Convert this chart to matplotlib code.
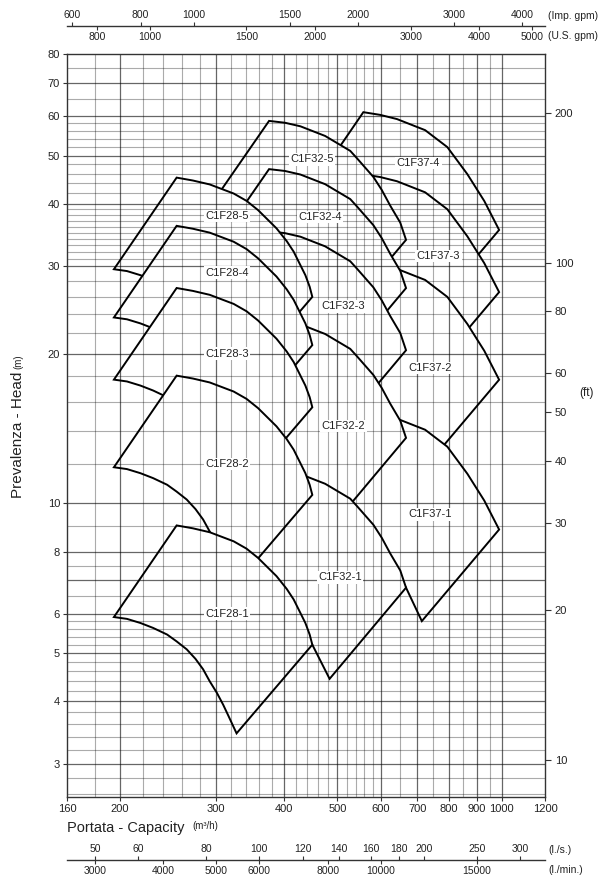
import matplotlib
matplotlib.use("Agg")
import matplotlib.pyplot as plt
from matplotlib.ticker import FixedLocator, NullLocator, FixedFormatter

plt.rcParams["font.family"] = ["Liberation Sans", "DejaVu Sans"]

# ---- data: single-stage envelope of each pump family (Q m3/h, H m) ----
# top = max impeller curve (left vertex -> right vertex)
# bottom = min impeller curve (left vertex -> bottom vertex)
F28_TOP_Q = [254, 272, 292, 323, 341, 358, 387, 404, 416, 437, 445, 450]
F28_TOP_H = [9.03, 8.91, 8.75, 8.39, 8.11, 7.77, 7.14, 6.73, 6.41, 5.75, 5.45, 5.20]
F28_BOT_Q = [195, 206, 218, 230, 244, 254, 265, 275, 284, 292, 301, 309, 316, 327]
F28_BOT_H = [5.91, 5.86, 5.75, 5.62, 5.45, 5.28, 5.09, 4.87, 4.64, 4.39, 4.16, 3.94,
             3.74, 3.45]
F28_STAGES = [5, 4, 3, 2, 1]

F32_TOP_Q = [375, 401, 428, 475, 528, 543, 582, 603, 625, 652, 668]
F32_TOP_H = [11.74, 11.64, 11.45, 10.95, 10.22, 9.88, 9.06, 8.53, 7.93, 7.33, 6.77]
F32_BOT_Q = [286, 361, 410, 450, 484]
F32_BOT_H = [7.64, 6.47, 5.84, 5.20, 4.44]
F32_STAGES = [5, 4, 3, 2, 1]

F37_TOP_Q = [558, 599, 643, 724, 795, 865, 929, 989]
F37_TOP_H = [15.28, 15.09, 14.80, 14.06, 13.00, 11.47, 10.13, 8.86]
F37_BOT_Q = [433, 506, 574, 638, 668, 714]
F37_BOT_H = [10.17, 9.36, 8.46, 7.40, 6.77, 5.80]
F37_STAGES = [4, 3, 2, 1]

LABEL_TEXT = ["C1F28-5", "C1F28-4", "C1F28-3", "C1F28-2", "C1F28-1",
              "C1F32-5", "C1F32-4", "C1F32-3", "C1F32-2", "C1F32-1",
              "C1F37-4", "C1F37-3", "C1F37-2", "C1F37-1"]
LABEL_Q = [314, 314, 314, 314, 314, 450, 465, 513, 513, 506, 704, 766, 740, 740]
LABEL_H = [37.8, 29.1, 20.0, 12.0, 6.0, 49.1, 37.6, 24.9, 14.3, 7.1, 48.3, 31.4, 18.7, 9.5]

X_TICKS = [160, 200, 300, 400, 500, 600, 700, 800, 900, 1000, 1200]
X_GRID_MAJOR = [200, 300, 400, 500, 600, 700, 800, 900, 1000]
X_GRID_MINOR = [180, 220, 240, 260, 280, 320, 340, 360, 380, 420, 440, 460, 480,
                520, 540, 560, 580, 650, 750, 850, 950]
Y_TICKS = [3, 4, 5, 6, 8, 10, 20, 30, 40, 50, 60, 70, 80]
Y_GRID_MAJOR = [3, 4, 5, 6, 7, 8, 10, 20, 30, 40, 50, 60, 70]
Y_GRID_MINOR = [2.6, 2.8, 3.2, 3.4, 3.6, 3.8, 4.2, 4.4, 4.6, 4.8, 5.2, 5.4, 5.6, 5.8,
                6.5, 7.5, 9, 12, 14, 16, 18, 22, 24, 26, 28,
                31, 32, 33, 34, 35, 36, 37, 38, 39, 42, 44, 46, 48,
                52, 54, 56, 58, 65, 75]
FT_TICKS = [10, 20, 30, 40, 50, 60, 80, 100, 200]

IMP_TICKS = [600, 800, 1000, 1500, 2000, 3000, 4000]
USG_TICKS = [800, 1000, 1500, 2000, 3000, 4000, 5000]
LS_TICKS = [50, 60, 80, 100, 120, 140, 160, 180, 200, 250, 300]
LMIN_TICKS = [3000, 4000, 5000, 6000, 8000, 10000, 15000]

Q_MIN, Q_MAX = 160, 1200
H_MIN, H_MAX = 2.57, 80

# unit factors from m3/h and m
IMP_GPM = 3.6662
US_GPM = 4.4029
L_S = 1 / 3.6
L_MIN = 1000 / 60
FT = 1 / 0.3048

TXT = "#222222"

fig = plt.figure(figsize=(6.1, 8.77), dpi=100)
W, H = 610, 877
L_PX, R_PX, T_PX, B_PX = 67, 545, 54, 797
rect = [L_PX / W, 1 - B_PX / H, (R_PX - L_PX) / W, (B_PX - T_PX) / H]
ax = fig.add_axes(rect)
ax.set_xscale("log")
ax.set_yscale("log")
ax.set_xlim(Q_MIN, Q_MAX)
ax.set_ylim(H_MIN, H_MAX)


def draw_family(top_q, top_h, bot_q, bot_h, stages, z):
    # multistage head = stages x single-stage head; lower stages drawn over
    q = list(top_q) + list(bot_q[::-1])
    for n in stages:
        h = [n * v for v in list(top_h) + list(bot_h[::-1])]
        ax.fill(q, h, facecolor="white", edgecolor="black", lw=1.4,
                joinstyle="miter", zorder=z)
        z += 0.01
    return z


z = 2.0
z = draw_family(F37_TOP_Q, F37_TOP_H, F37_BOT_Q, F37_BOT_H, F37_STAGES, z)
z = draw_family(F32_TOP_Q, F32_TOP_H, F32_BOT_Q, F32_BOT_H, F32_STAGES, z)
z = draw_family(F28_TOP_Q, F28_TOP_H, F28_BOT_Q, F28_BOT_H, F28_STAGES, z)

# grid on top, semi transparent black so it stays dark over the curves
for v in X_GRID_MINOR:
    ax.axvline(v, color="black", alpha=0.33, lw=0.8, zorder=3)
for v in X_GRID_MAJOR:
    ax.axvline(v, color="black", alpha=0.6, lw=0.9, zorder=3)
for v in Y_GRID_MINOR:
    ax.axhline(v, color="black", alpha=0.33, lw=0.8, zorder=3)
for v in Y_GRID_MAJOR:
    ax.axhline(v, color="black", alpha=0.6, lw=0.9, zorder=3)

for t, q, h in zip(LABEL_TEXT, LABEL_Q, LABEL_H):
    ax.text(q, h, t, fontsize=8, color=TXT, ha="center", va="center", zorder=5,
            bbox=dict(boxstyle="square,pad=0.12", fc="white", ec="none"))

for s in ax.spines.values():
    s.set_linewidth(1.0)
    s.set_color("#333333")
    s.set_zorder(4)

ax.xaxis.set_major_locator(FixedLocator(X_TICKS))
ax.xaxis.set_major_formatter(FixedFormatter([str(v) for v in X_TICKS]))
ax.xaxis.set_minor_locator(NullLocator())
ax.yaxis.set_major_locator(FixedLocator(Y_TICKS))
ax.yaxis.set_major_formatter(FixedFormatter([str(v) for v in Y_TICKS]))
ax.yaxis.set_minor_locator(NullLocator())
ax.tick_params(axis="both", labelsize=8, labelcolor=TXT, length=3, width=0.8,
               color="#333333", pad=2)

ax2 = ax.twinx()
ax2.set_yscale("log")
ax2.set_ylim(H_MIN * FT, H_MAX * FT)
ax2.yaxis.set_major_locator(FixedLocator(FT_TICKS))
ax2.yaxis.set_major_formatter(FixedFormatter([str(v) for v in FT_TICKS]))
ax2.yaxis.set_minor_locator(NullLocator())
ax2.tick_params(axis="y", labelsize=8, labelcolor=TXT, length=4, width=0.8,
                color="#333333", pad=3)
for s in ax2.spines.values():
    s.set_visible(False)

# axis titles
fig.text(18 / W, 1 - 435 / H, "Prevalenza - Head", rotation=90, fontsize=11,
         color=TXT, ha="center", va="center")
fig.text(18 / W, 1 - 362 / H, "(m)", rotation=90, fontsize=7,
         color=TXT, ha="center", va="center")
fig.text(586 / W, 1 - 393 / H, "(ft)", fontsize=8.5, color=TXT,
         ha="center", va="center")
fig.text(L_PX / W, 1 - 828 / H, "Portata - Capacity", fontsize=10.5,
         color=TXT, ha="left", va="center")
fig.text(192 / W, 1 - 826 / H, "(m\u00b3/h)", fontsize=7,
         color=TXT, ha="left", va="center")


def scale_line(y_px, factor_up, ticks_up, factor_dn, ticks_dn, unit_up, unit_dn):
    r = [L_PX / W, 1 - y_px / H, (R_PX - L_PX) / W, 1e-5]
    for k, (fac, ticks, side) in enumerate([(factor_up, ticks_up, "top"),
                                            (factor_dn, ticks_dn, "bottom")]):
        a = fig.add_axes(r, label="scale%d_%d" % (y_px, k))
        a.set_xscale("log")
        a.set_xlim(Q_MIN * fac, Q_MAX * fac)
        a.patch.set_visible(False)
        a.yaxis.set_visible(False)
        for s in a.spines.values():
            s.set_visible(False)
        if k == 0:
            a.spines["bottom"].set_visible(True)
            a.spines["bottom"].set_linewidth(1.0)
            a.spines["bottom"].set_color("#333333")
        a.xaxis.set_major_locator(FixedLocator(ticks))
        a.xaxis.set_major_formatter(FixedFormatter([str(v) for v in ticks]))
        a.xaxis.set_minor_locator(NullLocator())
        a.xaxis.set_ticks_position(side)
        a.xaxis.set_label_position(side)
        a.tick_params(axis="x", labelsize=7.5, labelcolor=TXT, length=3,
                      width=0.8, color="#333333", pad=1.5, direction="out")
    fig.text((R_PX + 3) / W, 1 - (y_px - 10) / H, unit_up, fontsize=7.5,
             color=TXT, ha="left", va="center")
    fig.text((R_PX + 3) / W, 1 - (y_px + 10) / H, unit_dn, fontsize=7.5,
             color=TXT, ha="left", va="center")


scale_line(26, IMP_GPM, IMP_TICKS, US_GPM, USG_TICKS, "(Imp. gpm)", "(U.S. gpm)")
scale_line(860, L_S, LS_TICKS, L_MIN, LMIN_TICKS, "(l./s.)", "(l./min.)")

fig.savefig("out.png", dpi=100)
